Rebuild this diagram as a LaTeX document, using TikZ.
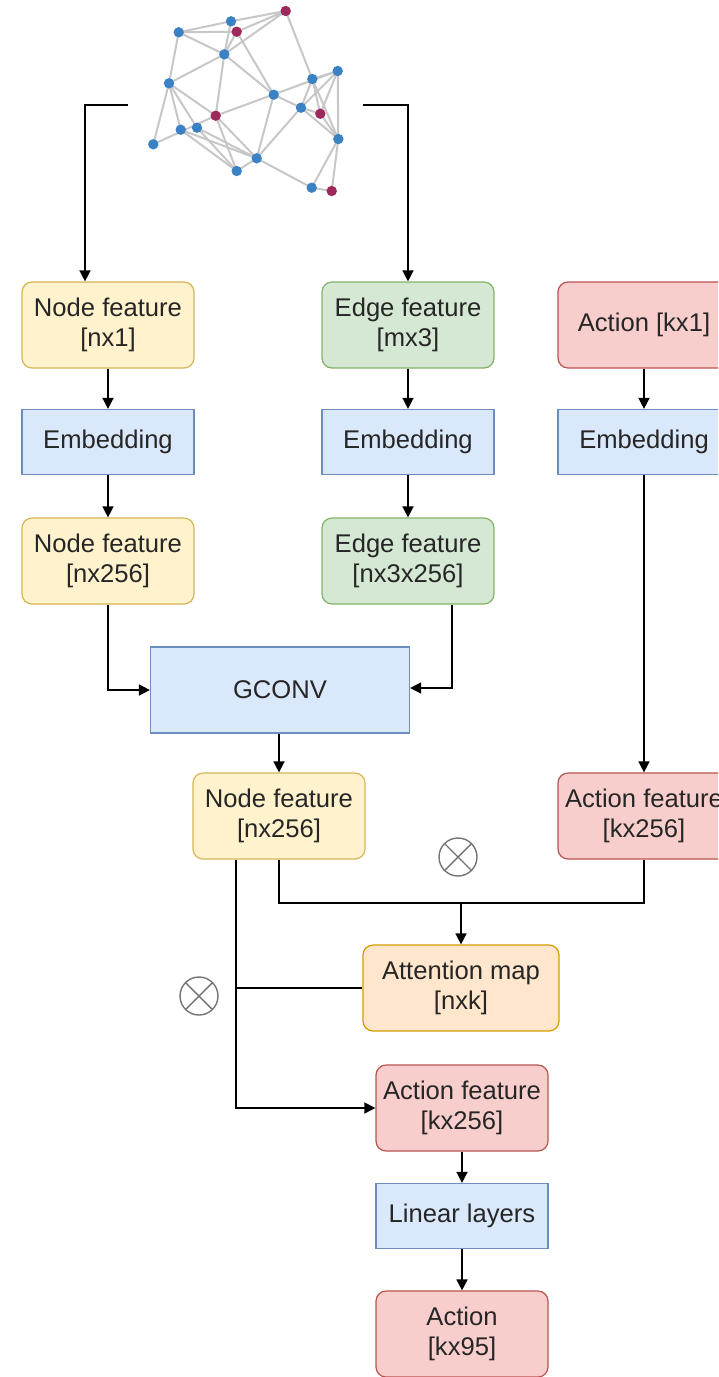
\documentclass[tikz,border=0pt]{standalone}
\usepackage{fontspec}
\setsansfont{Liberation Sans}
\usepackage{xcolor}
\usetikzlibrary{arrows.meta,positioning,calc}

\definecolor{ylwfill}{HTML}{FFF2CC}
\definecolor{ylwline}{HTML}{D6B656}
\definecolor{grnfill}{HTML}{D5E8D4}
\definecolor{grnline}{HTML}{82B366}
\definecolor{redfill}{HTML}{F8CECC}
\definecolor{redline}{HTML}{B85450}
\definecolor{blufill}{HTML}{DAE8FC}
\definecolor{bluline}{HTML}{6C8EBF}
\definecolor{orgfill}{HTML}{FFE6CC}
\definecolor{orgline}{HTML}{D79B00}
\definecolor{gblue}{HTML}{3B82C4}
\definecolor{gred}{HTML}{9E2A5C}

\tikzset{
    every picture/.style={font=\sffamily},
    every node/.style={font=\sffamily},
    box/.style={draw, line width=0.6pt, minimum width=86pt, minimum height=43pt,
        align=center, inner sep=2pt, text=black!85,
        font=\sffamily\fontsize{12.8}{15}\selectfont},
    ylwbox/.style={box, rounded corners=5pt, fill=ylwfill, draw=ylwline},
    grnbox/.style={box, rounded corners=5pt, fill=grnfill, draw=grnline},
    redbox/.style={box, rounded corners=5pt, fill=redfill, draw=redline},
    orgbox/.style={box, rounded corners=5pt, fill=orgfill, draw=orgline},
    layer/.style={box, fill=blufill, draw=bluline, minimum height=32.5pt},
    flow/.style={line width=0.75pt, -{Triangle[length=5.5pt,width=5.5pt]}},
    wire/.style={line width=0.75pt},
    gedge/.style={black!22, line width=1pt},
    otimes/.style={circle, draw=black!55, line width=0.7pt, minimum size=19pt, inner sep=0pt,
        path picture={\draw[black!55, line width=0.7pt]
            (path picture bounding box.north west) -- (path picture bounding box.south east)
            (path picture bounding box.north east) -- (path picture bounding box.south west);}}
}

\begin{document}
\begin{tikzpicture}[x=0.5pt, y=-0.5pt]
    \clip (0,0) rectangle (718,1377);

    % input graph
    \foreach \n/\x/\y in {1/285.7/11, 2/231/21.3, 3/236.7/31.7, 4/178.7/32.3, 5/224.3/54.3,
        6/169/83.3, 7/337.7/71, 8/312.3/79, 9/273.7/94.7, 10/301/107.7, 11/320.3/113.7,
        12/215.7/115.7, 13/180.7/129.7, 14/197/127.7, 15/153.3/144.3, 16/338.3/139,
        17/256.7/158.3, 18/236.7/171, 19/311.7/187.7, 20/331.7/191}
        \coordinate (g\n) at (\x,\y);
    \foreach \a/\b in {4/2, 2/1, 4/3, 3/1, 5/1, 2/5, 3/5, 4/6, 4/5, 6/5, 5/12, 5/9, 3/9,
        1/8, 6/12, 6/13, 6/14, 6/15, 12/7, 15/12, 9/10, 10/11, 9/17, 8/10, 8/11, 8/16,
        7/10, 7/11, 7/16, 8/7, 17/10, 17/13, 17/14, 17/18, 17/19, 18/13, 18/12, 12/17,
        16/19, 16/20, 19/20, 11/16, 14/18, 10/16}
        \draw[gedge] (g\a) -- (g\b);
    \foreach \n in {2,4,5,6,7,8,9,10,13,14,15,16,17,18,19}
        \fill[gblue] (g\n) circle (2.6pt);
    \foreach \n in {1,3,11,12,20}
        \fill[gred] (g\n) circle (2.6pt);
    \coordinate (gl) at (128,105);
    \coordinate (gr) at (363,105);

    % encoders
    \node[ylwbox] (nf1) at (108,325) {Node feature\\{}[nx1]};
    \node[layer] (emb1) at (108,442) {Embedding};
    \node[ylwbox] (nf2) at (108,561) {Node feature\\{}[nx256]};
    \node[grnbox] (ef1) at (408,325) {Edge feature\\{}[mx3]};
    \node[layer] (emb2) at (408,442) {Embedding};
    \node[grnbox] (ef2) at (408,561) {Edge feature\\{}[nx3x256]};
    \node[redbox] (af1) at (644,325) {Action [kx1]};
    \node[layer] (emb3) at (644,442) {Embedding};

    \node[layer, minimum width=129.5pt, minimum height=43pt] (gconv) at (280,690) {GCONV};
    \node[ylwbox] (nf3) at (279,816) {Node feature\\{}[nx256]};
    \node[redbox] (af2) at (644,816) {Action feature\\{}[kx256]};

    % attention and output head
    \node[otimes] (mul1) at (458,857) {};
    \node[orgbox, minimum width=98pt] (att) at (461,988) {Attention map\\{}[nxk]};
    \node[otimes] (mul2) at (199,996) {};
    \node[redbox] (af3) at (462,1108) {Action feature\\{}[kx256]};
    \node[layer] (lin) at (462,1216) {Linear layers};
    \node[redbox] (act) at (462,1334) {Action\\{}[kx95]};

    % connectors
    \draw[flow] (gl) -| ([xshift=-11.5pt]nf1.north);
    \draw[flow] (gr) -| (ef1.north);
    \draw[flow] (nf1) -- (emb1);
    \draw[flow] (emb1) -- (nf2);
    \draw[flow] (ef1) -- (emb2);
    \draw[flow] (emb2) -- (ef2);
    \draw[flow] (af1) -- (emb3);
    \draw[flow] (emb3) -- (af2);
    \draw[flow] (nf2.south) |- (gconv.west);
    \draw[flow] ([xshift=22pt]ef2.south) |- ([yshift=1pt]gconv.east);
    \draw[flow] (gconv.south -| nf3.north) -- (nf3.north);

    \coordinate (join) at (att.north |- 0,903);
    \draw[wire] (nf3.south) |- (join) -| (af2.south);
    \draw[flow] (join) -- (att.north);
    \coordinate (tap) at ([xshift=-21.5pt]nf3.south);
    \draw[flow] (tap) |- (af3.west);
    \draw[wire] (att.west) -- (att.west -| tap);
    \draw[flow] (af3) -- (lin);
    \draw[flow] (lin) -- (act);
\end{tikzpicture}
\end{document}
